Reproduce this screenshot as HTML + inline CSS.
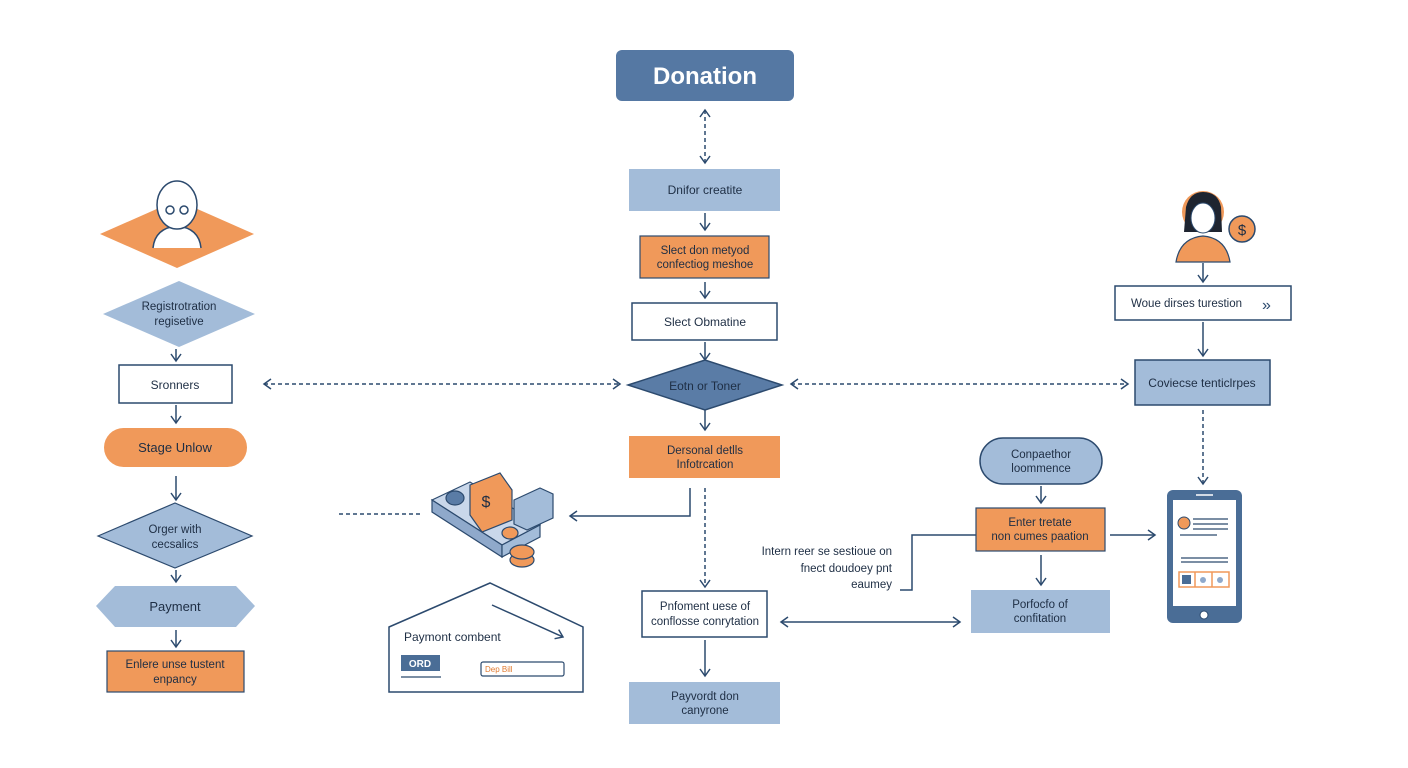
<!DOCTYPE html>
<html><head><meta charset="utf-8"><style>
html,body{margin:0;padding:0;background:#fff;}
svg{display:block;font-family:"Liberation Sans",sans-serif;}
</style></head><body>
<svg width="1408" height="768" viewBox="0 0 1408 768" xmlns="http://www.w3.org/2000/svg">
<defs>
<marker id="a" markerWidth="12" markerHeight="12" refX="9" refY="6" orient="auto" markerUnits="userSpaceOnUse"><path d="M2,1 L9,6 L2,11" fill="none" stroke="#2c4a6e" stroke-width="1.5"/></marker>
<marker id="s" markerWidth="12" markerHeight="12" refX="3" refY="6" orient="auto" markerUnits="userSpaceOnUse"><path d="M10,1 L3,6 L10,11" fill="none" stroke="#2c4a6e" stroke-width="1.5"/></marker>
</defs>
<g stroke="#2c4a6e" stroke-width="1.5" fill="none">
<line x1="705" y1="110" x2="705" y2="163" stroke-dasharray="4,3" marker-start="url(#s)" marker-end="url(#a)"/>
<line x1="705" y1="213" x2="705" y2="230" marker-end="url(#a)"/>
<line x1="705" y1="282" x2="705" y2="298" marker-end="url(#a)"/>
<line x1="705" y1="342" x2="705" y2="360" marker-end="url(#a)"/>
<line x1="705" y1="410" x2="705" y2="430" marker-end="url(#a)"/>
<polyline points="690,488 690,516 570,516" marker-end="url(#a)"/>
<line x1="705" y1="488" x2="705" y2="587" stroke-dasharray="4,3" marker-end="url(#a)"/>
<line x1="705" y1="640" x2="705" y2="676" marker-end="url(#a)"/>
<line x1="781" y1="622" x2="960" y2="622" marker-start="url(#s)" marker-end="url(#a)"/>
<line x1="176" y1="349" x2="176" y2="361" marker-end="url(#a)"/>
<line x1="176" y1="405" x2="176" y2="423" marker-end="url(#a)"/>
<line x1="176" y1="476" x2="176" y2="500" marker-end="url(#a)"/>
<line x1="176" y1="570" x2="176" y2="582" marker-end="url(#a)"/>
<line x1="176" y1="630" x2="176" y2="647" marker-end="url(#a)"/>
<line x1="264" y1="384" x2="620" y2="384" stroke-dasharray="4,3" marker-start="url(#s)" marker-end="url(#a)"/>
<line x1="791" y1="384" x2="1128" y2="384" stroke-dasharray="4,3" marker-start="url(#s)" marker-end="url(#a)"/>
<line x1="1203" y1="263" x2="1203" y2="282" marker-end="url(#a)"/>
<line x1="1203" y1="322" x2="1203" y2="356" marker-end="url(#a)"/>
<line x1="1203" y1="410" x2="1203" y2="484" stroke-dasharray="4,3" marker-end="url(#a)"/>
<line x1="1041" y1="486" x2="1041" y2="503" marker-end="url(#a)"/>
<line x1="1110" y1="535" x2="1155" y2="535" marker-end="url(#a)"/>
<line x1="1041" y1="555" x2="1041" y2="585" marker-end="url(#a)"/>
<polyline points="976,535 912,535 912,590 900,590"/>
<line x1="339" y1="514" x2="420" y2="514" stroke-dasharray="4,3"/>
</g>
<!-- center column -->
<rect x="616" y="50" width="178" height="51" rx="6" fill="#5578a3"/>
<text x="705" y="84" font-size="24" font-weight="bold" fill="#fff" text-anchor="middle">Donation</text>
<rect x="629" y="169" width="151" height="42" fill="#a3bcd9"/>
<text x="705" y="194" font-size="12" fill="#1e2e44" text-anchor="middle">Dnifor creatite</text>
<rect x="640" y="236" width="129" height="42" fill="#f0995a" stroke="#2c4a6e" stroke-width="1.2"/>
<text x="705" y="254" font-size="11.5" fill="#1e2e44" text-anchor="middle">Slect don metyod</text>
<text x="705" y="268" font-size="11.5" fill="#1e2e44" text-anchor="middle">confectiog meshoe</text>
<rect x="632" y="303" width="145" height="37" fill="#fff" stroke="#2c4a6e" stroke-width="1.5"/>
<text x="705" y="326" font-size="12" fill="#1e2e44" text-anchor="middle">Slect Obmatine</text>
<polygon points="628,385 705,360 782,385 705,410" fill="#5a7ca6" stroke="#2c4a6e" stroke-width="1.5"/>
<text x="705" y="390" font-size="12" fill="#1e2e44" text-anchor="middle">Eotn or Toner</text>
<rect x="629" y="436" width="151" height="42" fill="#f0995a"/>
<text x="705" y="454" font-size="11.5" fill="#1e2e44" text-anchor="middle">Dersonal detlls</text>
<text x="705" y="468" font-size="11.5" fill="#1e2e44" text-anchor="middle">Infotrcation</text>
<rect x="642" y="591" width="125" height="46" fill="#fff" stroke="#2c4a6e" stroke-width="1.5"/>
<text x="705" y="610" font-size="11.5" fill="#1e2e44" text-anchor="middle">Pnfoment uese of</text>
<text x="705" y="625" font-size="11.5" fill="#1e2e44" text-anchor="middle">conflosse conrytation</text>
<rect x="629" y="682" width="151" height="42" fill="#a3bcd9"/>
<text x="705" y="700" font-size="11.5" fill="#1e2e44" text-anchor="middle">Payvordt don</text>
<text x="705" y="714" font-size="11.5" fill="#1e2e44" text-anchor="middle">canyrone</text>
<rect x="971" y="590" width="139" height="43" fill="#a3bcd9"/>
<text x="1040" y="608" font-size="11.5" fill="#1e2e44" text-anchor="middle">Porfocfo of</text>
<text x="1040" y="622" font-size="11.5" fill="#1e2e44" text-anchor="middle">confitation</text>
<!-- left column -->
<polygon points="100,234 177,200 254,234 177,268" fill="#f0995a"/>
<g stroke="#2c4a6e" stroke-width="1.5" fill="#fff">
<path d="M153,248 Q155,228 177,226 Q199,228 201,248" />
<ellipse cx="177" cy="205" rx="20" ry="24"/>
<circle cx="170" cy="210" r="4" fill="none"/><circle cx="184" cy="210" r="4" fill="none"/>
</g>
<polygon points="103,314 179,281 255,314 179,347" fill="#a3bcd9"/>
<text x="179" y="310" font-size="11.5" fill="#1e2e44" text-anchor="middle">Registrotration</text>
<text x="179" y="325" font-size="11.5" fill="#1e2e44" text-anchor="middle">regisetive</text>
<rect x="119" y="365" width="113" height="38" fill="#fff" stroke="#2c4a6e" stroke-width="1.5"/>
<text x="175" y="389" font-size="12" fill="#1e2e44" text-anchor="middle">Sronners</text>
<rect x="104" y="428" width="143" height="39" rx="19.5" fill="#f0995a"/>
<text x="175" y="452" font-size="13" fill="#1e2e44" text-anchor="middle">Stage Unlow</text>
<polygon points="98,536 175,503 252,536 175,568" fill="#a3bcd9" stroke="#2c4a6e" stroke-width="1.2"/>
<text x="175" y="533" font-size="11.5" fill="#1e2e44" text-anchor="middle">Orger with</text>
<text x="175" y="548" font-size="11.5" fill="#1e2e44" text-anchor="middle">cecsalics</text>
<polygon points="96,606 115,586 236,586 255,606 236,627 115,627" fill="#a3bcd9"/>
<text x="175" y="611" font-size="13" fill="#1e2e44" text-anchor="middle">Payment</text>
<rect x="107" y="651" width="137" height="41" fill="#f0995a" stroke="#2c4a6e" stroke-width="1.2"/>
<text x="175" y="668" font-size="11.5" fill="#1e2e44" text-anchor="middle">Enlere unse tustent</text>
<text x="175" y="683" font-size="11.5" fill="#1e2e44" text-anchor="middle">enpancy</text>
<!-- money icon -->
<g stroke="#2c4a6e" stroke-width="1.2">
<polygon points="432,500 470,482 540,525 502,545" fill="#c9d7ea"/>
<polygon points="432,500 432,512 502,557 502,545" fill="#8fa9cb"/>
<polygon points="502,545 540,525 540,537 502,557" fill="#a3bcd9"/>
<ellipse cx="455" cy="498" rx="9" ry="7" fill="#5a7ca6"/>
<polygon points="514,500 540,488 553,494 553,518 527,530 514,524" fill="#a3bcd9"/>
<polygon points="470,485 500,473 512,490 512,520 482,532 470,515" fill="#f0995a"/>
<text x="486" y="507" font-size="16" fill="#1e2e44" stroke="none" text-anchor="middle">$</text>
<ellipse cx="522" cy="560" rx="12" ry="7" fill="#f0995a"/>
<ellipse cx="522" cy="552" rx="12" ry="7" fill="#f0995a"/>
<ellipse cx="510" cy="533" rx="8" ry="6" fill="#f0995a"/>
</g>
<!-- house -->
<polygon points="389,627 490,583 583,627 583,692 389,692" fill="#fff" stroke="#2c4a6e" stroke-width="1.5"/>
<text x="404" y="641" font-size="12" fill="#1e2e44">Paymont combent</text>
<line x1="492" y1="605" x2="563" y2="637" stroke="#2c4a6e" stroke-width="1.5" marker-end="url(#a)"/>
<rect x="401" y="655" width="39" height="16" fill="#4a6d96"/>
<text x="420" y="667" font-size="10" font-weight="bold" fill="#fff" text-anchor="middle">ORD</text>
<line x1="401" y1="677" x2="441" y2="677" stroke="#2c4a6e" stroke-width="1.2"/>
<rect x="481" y="662" width="83" height="14" rx="2" fill="#fff" stroke="#2c4a6e" stroke-width="1.2"/>
<text x="485" y="672" font-size="8" fill="#e07a30">Dep Bill</text>
<!-- right side -->
<path d="M1176,262 Q1180,238 1203,236 Q1226,238 1230,262 Z" fill="#f0995a" stroke="#2c4a6e" stroke-width="1.2"/>
<circle cx="1203" cy="212" r="21" fill="#f0995a"/>
<path d="M1184,232 L1186,207 Q1190,192 1203,192 Q1218,192 1221,207 L1222,232 Z" fill="#1e2430"/>
<ellipse cx="1203" cy="218" rx="12" ry="15" fill="#fff" stroke="#2c4a6e"/>
<circle cx="1242" cy="229" r="13" fill="#f0995a" stroke="#2c4a6e" stroke-width="1.5"/>
<text x="1242" y="235" font-size="15" fill="#1e2e44" text-anchor="middle">$</text>
<rect x="1115" y="286" width="176" height="34" fill="#fff" stroke="#2c4a6e" stroke-width="1.5"/>
<text x="1131" y="307" font-size="11.5" fill="#1e2e44">Woue dirses turestion</text>
<text x="1262" y="310" font-size="16" fill="#2c4a6e">&#187;</text>
<rect x="1135" y="360" width="135" height="45" fill="#a3bcd9" stroke="#2c4a6e" stroke-width="1.5"/>
<text x="1202" y="387" font-size="12" fill="#1e2e44" text-anchor="middle">Coviecse tenticlrpes</text>
<rect x="980" y="438" width="122" height="46" rx="23" fill="#a3bcd9" stroke="#2c4a6e" stroke-width="1.5"/>
<text x="1041" y="458" font-size="11.5" fill="#1e2e44" text-anchor="middle">Conpaethor</text>
<text x="1041" y="472" font-size="11.5" fill="#1e2e44" text-anchor="middle">loommence</text>
<rect x="976" y="508" width="129" height="43" fill="#f0995a" stroke="#2c4a6e" stroke-width="1.2"/>
<text x="1040" y="526" font-size="11.5" fill="#1e2e44" text-anchor="middle">Enter tretate</text>
<text x="1040" y="540" font-size="11.5" fill="#1e2e44" text-anchor="middle">non cumes paation</text>
<text x="892" y="555" font-size="11.5" fill="#1e2e44" text-anchor="end">Intern reer se sestioue on</text>
<text x="892" y="572" font-size="11.5" fill="#1e2e44" text-anchor="end">fnect doudoey pnt</text>
<text x="892" y="588" font-size="11.5" fill="#1e2e44" text-anchor="end">eaumey</text>
<!-- phone -->
<rect x="1167" y="490" width="75" height="133" rx="6" fill="#4a6d96"/>
<rect x="1173" y="500" width="63" height="106" fill="#fff"/>
<line x1="1196" y1="495" x2="1213" y2="495" stroke="#fff" stroke-width="1.5"/>
<circle cx="1204" cy="615" r="4" fill="#fff" stroke="#2c4a6e"/>
<circle cx="1184" cy="523" r="6" fill="#f0995a" stroke="#2c4a6e"/>
<g stroke="#2c4a6e" stroke-width="1.2"><line x1="1193" y1="519" x2="1228" y2="519"/><line x1="1193" y1="524" x2="1228" y2="524"/><line x1="1193" y1="529" x2="1228" y2="529"/><line x1="1180" y1="535" x2="1217" y2="535"/><line x1="1181" y1="558" x2="1228" y2="558"/><line x1="1181" y1="562" x2="1228" y2="562"/></g>
<rect x="1179" y="572" width="50" height="15" fill="#fff" stroke="#f0995a" stroke-width="1.5"/>
<line x1="1195" y1="572" x2="1195" y2="587" stroke="#f0995a" stroke-width="1.5"/><line x1="1212" y1="572" x2="1212" y2="587" stroke="#f0995a" stroke-width="1.5"/>
<rect x="1182" y="575" width="9" height="9" fill="#4a6d96"/>
<circle cx="1203" cy="580" r="3" fill="#8fa9cb"/><circle cx="1220" cy="580" r="3" fill="#8fa9cb"/>
</svg>
</body></html>
